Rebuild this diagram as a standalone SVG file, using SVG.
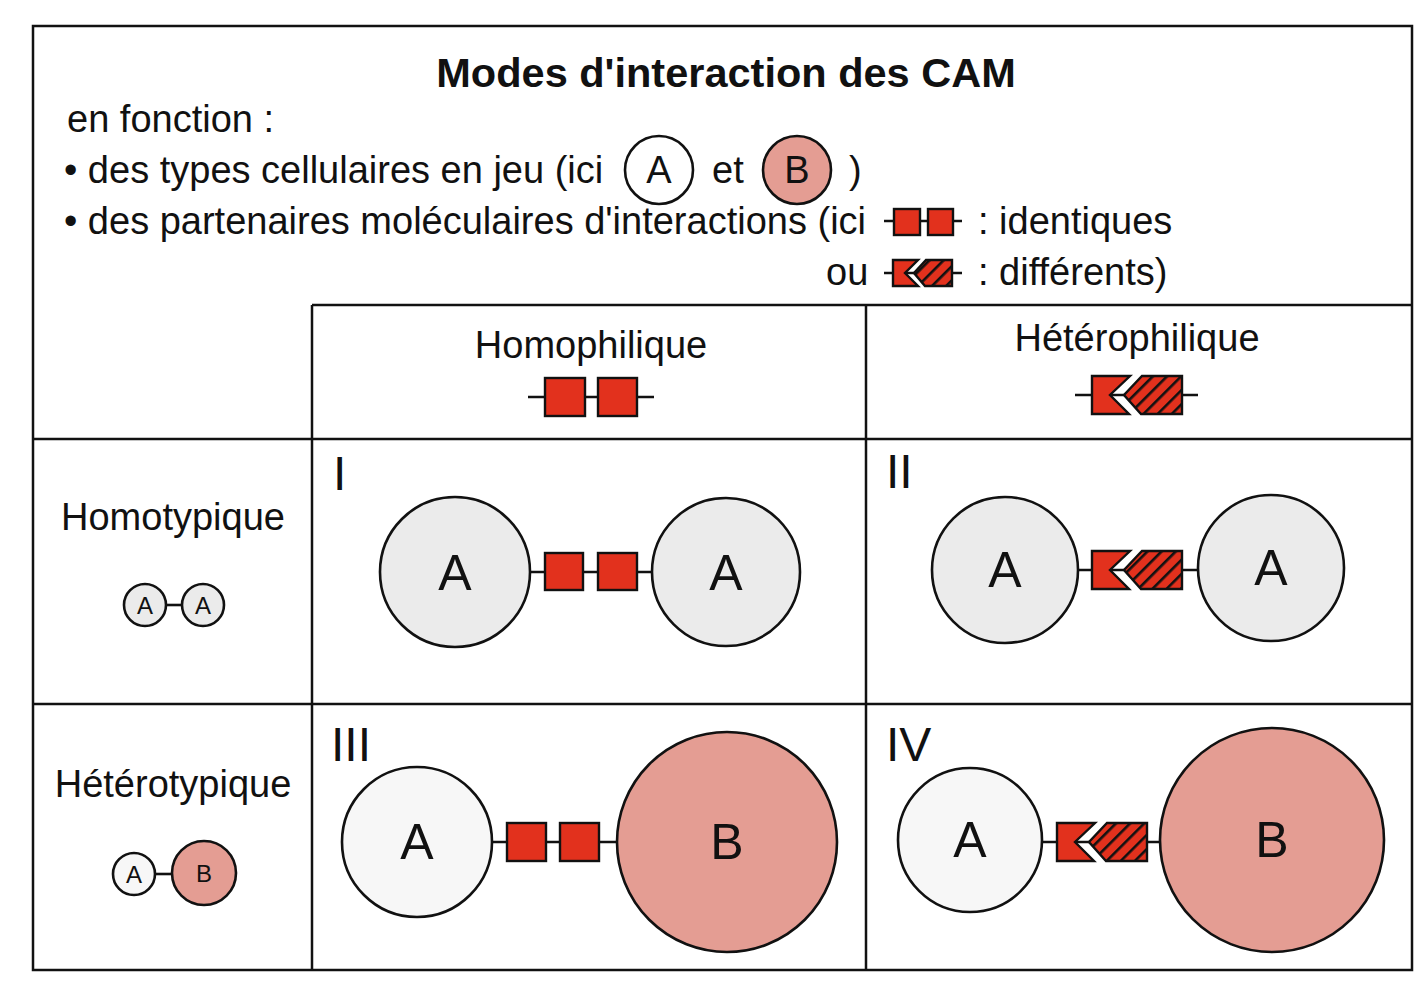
<svg xmlns="http://www.w3.org/2000/svg" width="1428" height="992" viewBox="0 0 1428 992">
<style>
text{font-family:"Liberation Sans",Arial,Helvetica,sans-serif;fill:#111}
.t{font-size:38px}
.title{font-size:41.5px;font-weight:bold}
.big{font-size:50px}
.rn{font-size:48px}
.sm{font-size:24px}
.grid{stroke:#111;stroke-width:2.5;fill:none}
.cell{stroke:#111;stroke-width:2.6}
.ga{fill:#ebebeb}
.wa{fill:#f7f7f7}
.pb{fill:#e49d93}
.mol{fill:#e2311d;stroke:#111;stroke-width:2.4}
.hat{fill:url(#hatch);stroke:#111;stroke-width:2.4}
.ln{stroke:#111;stroke-width:2.6;fill:none}
</style>
<defs>
<pattern id="hatch" patternUnits="userSpaceOnUse" width="10" height="10" patternTransform="rotate(45)">
<rect width="10" height="10" fill="#e2311d"/>
<rect x="0" y="0" width="2.6" height="10" fill="#111"/>
</pattern>
</defs>
<rect width="1428" height="992" fill="#fff"/>

<g id="frame">
<rect class="grid" x="33" y="26" width="1379" height="944"/>
<line class="grid" x1="312" y1="305" x2="1412" y2="305"/>
<line class="grid" x1="312" y1="305" x2="312" y2="970"/>
<line class="grid" x1="866" y1="305" x2="866" y2="970"/>
<line class="grid" x1="33" y1="439" x2="1412" y2="439"/>
<line class="grid" x1="33" y1="704" x2="1412" y2="704"/>
</g>

<g id="header">
<text class="title" x="726" y="87" text-anchor="middle">Modes d'interaction des CAM</text>
<text class="t" x="67" y="132">en fonction :</text>
<text class="t" x="64" y="183">• des types cellulaires en jeu (ici</text>
<circle class="cell" cx="659" cy="170" r="34" fill="#fff"/>
<text class="t" x="659" y="183" text-anchor="middle">A</text>
<text class="t" x="712" y="183">et</text>
<circle class="cell pb" cx="797" cy="170" r="34"/>
<text class="t" x="797" y="183" text-anchor="middle">B</text>
<text class="t" x="849" y="183">)</text>
<text class="t" x="64" y="234">• des partenaires moléculaires d'interactions (ici</text>
<line class="ln" x1="884" y1="221" x2="962" y2="221"/>
<rect class="mol" x="894" y="209" width="26" height="26"/>
<rect class="mol" x="928" y="209" width="25" height="26"/>
<text class="t" x="978" y="234">: identiques</text>
<text class="t" x="826" y="285">ou</text>
<line class="ln" x1="884" y1="273" x2="962" y2="273"/>
<path class="mol" d="M893,260 H918 L905,273 L918,286 H893 Z"/>
<path class="hat" d="M926,260 H952 V286 H925 L914,273 Z"/>
<text class="t" x="978" y="285">: différents)</text>
</g>

<g id="col-homophilique">
<text class="t" x="591" y="358" text-anchor="middle">Homophilique</text>
<line class="ln" x1="528" y1="397" x2="654" y2="397"/>
<rect class="mol" x="545" y="378" width="40" height="38"/>
<rect class="mol" x="598" y="378" width="39" height="38"/>
</g>

<g id="col-heterophilique">
<text class="t" x="1137" y="351" text-anchor="middle">Hétérophilique</text>
<line class="ln" x1="1075" y1="395" x2="1198" y2="395"/>
<path class="mol" d="M1092,376 H1130 L1110,395 L1129,414 H1092 Z"/>
<path class="hat" d="M1142,376 H1182 V414 H1141 L1124,395 Z"/>
</g>

<g id="row-homotypique">
<text class="t" x="173" y="530" text-anchor="middle">Homotypique</text>
<line class="ln" x1="167" y1="605" x2="181" y2="605"/>
<circle class="cell ga" cx="145" cy="605" r="21"/>
<text class="sm" x="145" y="614" text-anchor="middle">A</text>
<circle class="cell ga" cx="203" cy="605" r="21"/>
<text class="sm" x="203" y="614" text-anchor="middle">A</text>
</g>

<g id="row-heterotypique">
<text class="t" x="173" y="797" text-anchor="middle">Hétérotypique</text>
<line class="ln" x1="155" y1="874" x2="172" y2="874"/>
<circle class="cell" cx="134" cy="874" r="21" fill="#f7f7f7"/>
<text class="sm" x="134" y="883" text-anchor="middle">A</text>
<circle class="cell pb" cx="204" cy="873" r="32"/>
<text class="sm" x="204" y="882" text-anchor="middle">B</text>
</g>

<g id="connectors">
<line class="ln" x1="530" y1="572" x2="652" y2="572"/>
<line class="ln" x1="1078" y1="570" x2="1198" y2="570"/>
<line class="ln" x1="492" y1="842" x2="617" y2="842"/>
<line class="ln" x1="1042" y1="842" x2="1160" y2="842"/>
</g>

<g id="cell-I">
<text class="rn" x="333" y="490">I</text>
<circle class="cell ga" cx="455" cy="572" r="75"/>
<text class="big" x="455" y="590" text-anchor="middle">A</text>
<circle class="cell ga" cx="726" cy="572" r="74"/>
<text class="big" x="726" y="590" text-anchor="middle">A</text>
<rect class="mol" x="545" y="553" width="38" height="37"/>
<rect class="mol" x="598" y="553" width="39" height="37"/>
</g>

<g id="cell-II">
<text class="rn" x="886" y="488">II</text>
<circle class="cell ga" cx="1005" cy="570" r="73"/>
<text class="big" x="1005" y="587" text-anchor="middle">A</text>
<circle class="cell ga" cx="1271" cy="568" r="73"/>
<text class="big" x="1271" y="585" text-anchor="middle">A</text>
<path class="mol" d="M1092,551 H1130 L1110,570 L1129,589 H1092 Z"/>
<path class="hat" d="M1142,551 H1182 V589 H1141 L1124,570 Z"/>
</g>

<g id="cell-III">
<text class="rn" x="331" y="761">III</text>
<circle class="cell wa" cx="417" cy="842" r="75"/>
<text class="big" x="417" y="859" text-anchor="middle">A</text>
<circle class="cell pb" cx="727" cy="842" r="110"/>
<text class="big" x="727" y="859" text-anchor="middle">B</text>
<rect class="mol" x="507" y="823" width="39" height="38"/>
<rect class="mol" x="560" y="823" width="39" height="38"/>
</g>

<g id="cell-IV">
<text class="rn" x="886" y="761">IV</text>
<circle class="cell wa" cx="970" cy="840" r="72"/>
<text class="big" x="970" y="857" text-anchor="middle">A</text>
<circle class="cell pb" cx="1272" cy="840" r="112"/>
<text class="big" x="1272" y="857" text-anchor="middle">B</text>
<path class="mol" d="M1057,823 H1095 L1075,842 L1094,861 H1057 Z"/>
<path class="hat" d="M1107,823 H1147 V861 H1106 L1089,842 Z"/>
</g>
</svg>
